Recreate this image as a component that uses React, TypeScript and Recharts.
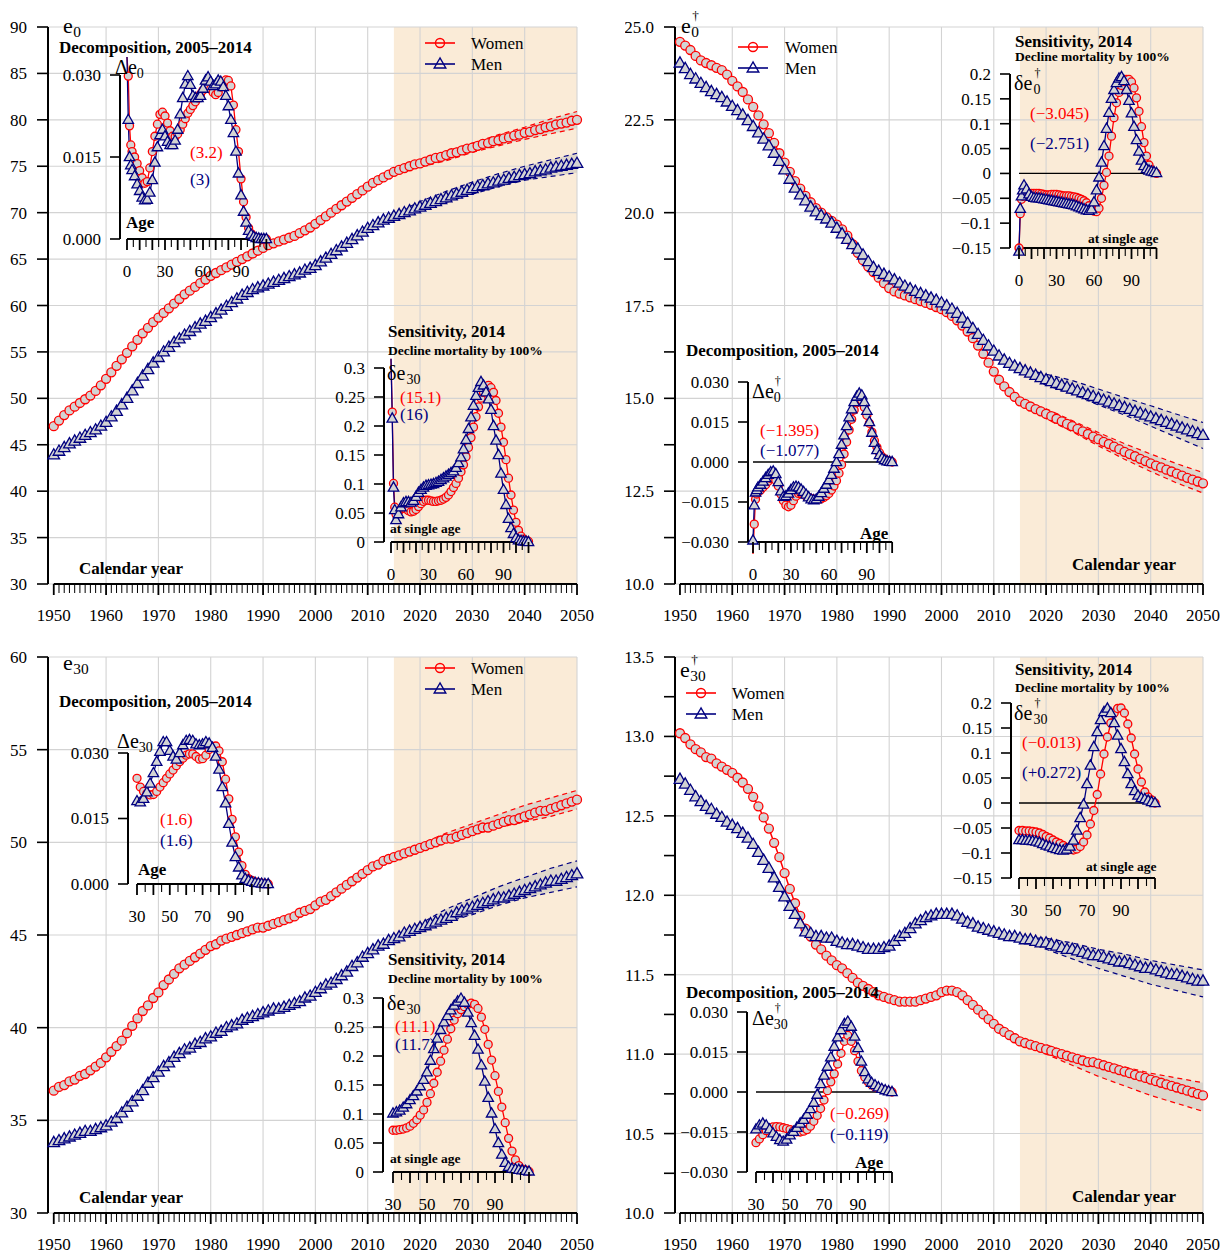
import React from 'react';
import { ComposedChart, Line, Area, XAxis, YAxis, ReferenceLine, ReferenceArea } from 'recharts';

const FONT = '"Liberation Serif", "Times New Roman", serif';
const RED = '#ff0000';
const NAVY = '#000080';
const PT_FILL = '#d3d3d3';
const GRID = '#d3d3d3';
const SHADE = '#faebd7';

// categories
const years = Array.from({ length: 101 }, (_, i) => 1950 + i);
const decades = [1960, 1970, 1980, 1990, 2000, 2010, 2020, 2030, 2040, 2050];
const bandYears = [2015, 2020, 2025, 2030, 2035, 2040, 2045, 2050];
const agesFull = [0, 1, 2, 3, 4, ...Array.from({ length: 53 }, (_, i) => 6 + 2 * i)];
const ages30 = Array.from({ length: 41 }, (_, i) => 30 + 2 * i);

// ---- main panels: yearly values 1950..2050 ----
const e0Women = [
  47.0, 47.6, 48.2, 48.7, 49.1, 49.5, 49.9, 50.3, 50.8, 51.4,
  52.1, 52.8, 53.5, 54.2, 54.9, 55.6, 56.3, 57.0, 57.6, 58.2,
  58.7, 59.2, 59.7, 60.2, 60.7, 61.2, 61.6, 62.0, 62.4, 62.8,
  63.2, 63.5, 63.8, 64.1, 64.4, 64.7, 65.0, 65.3, 65.6, 65.9,
  66.2, 66.5, 66.7, 66.9, 67.1, 67.3, 67.5, 67.8, 68.1, 68.4,
  68.8, 69.2, 69.6, 70.0, 70.4, 70.8, 71.2, 71.6, 72.0, 72.4,
  72.8, 73.2, 73.5, 73.8, 74.1, 74.4, 74.6, 74.8, 75.0, 75.2,
  75.3, 75.5, 75.7, 75.9, 76.0, 76.2, 76.4, 76.5, 76.7, 76.9,
  77.0, 77.2, 77.4, 77.5, 77.7, 77.8, 78.0, 78.1, 78.3, 78.4,
  78.6, 78.7, 78.9, 79.0, 79.2, 79.3, 79.5, 79.6, 79.7, 79.9,
  80.0,
];
const e0Men = [
  43.9, 44.3, 44.7, 45.1, 45.4, 45.7, 46.0, 46.3, 46.6, 47.0,
  47.4, 48.0, 48.6, 49.3, 50.0, 50.8, 51.6, 52.4, 53.1, 53.8,
  54.4, 55.0, 55.5, 56.0, 56.4, 56.8, 57.2, 57.6, 58.0, 58.3,
  58.7, 59.1, 59.5, 59.9, 60.3, 60.7, 61.1, 61.4, 61.7, 61.9,
  62.1, 62.3, 62.5, 62.7, 62.9, 63.1, 63.3, 63.5, 63.8, 64.0,
  64.3, 64.7, 65.1, 65.5, 65.9, 66.3, 66.7, 67.1, 67.5, 67.9,
  68.3, 68.6, 68.9, 69.2, 69.4, 69.6, 69.8, 70.0, 70.2, 70.4,
  70.6, 70.8, 71.0, 71.2, 71.4, 71.6, 71.8, 72.0, 72.2, 72.4,
  72.6, 72.8, 72.9, 73.1, 73.2, 73.4, 73.5, 73.7, 73.8, 74.0,
  74.1, 74.2, 74.4, 74.5, 74.6, 74.8, 74.9, 75.0, 75.1, 75.2,
  75.3,
];
const e0WomenHi = [74.5, 75.7, 76.6, 77.5, 78.4, 79.2, 80.1, 80.9];
const e0WomenLo = [74.3, 74.9, 75.6, 76.5, 77.2, 77.9, 78.5, 79.1];
const e0MenHi = [69.8, 71.2, 72.3, 73.3, 74.2, 75.0, 75.7, 76.4];
const e0MenLo = [69.6, 70.2, 71.1, 72.0, 72.8, 73.5, 73.9, 74.3];

const ed0Women = [
  24.60, 24.50, 24.38, 24.22, 24.10, 24.03, 23.97, 23.90, 23.84, 23.72,
  23.55, 23.40, 23.25, 23.05, 22.85, 22.62, 22.38, 22.14, 21.88, 21.60,
  21.35, 21.10, 20.85, 20.65, 20.45, 20.28, 20.12, 20.00, 19.88, 19.78,
  19.68, 19.55, 19.38, 19.15, 18.92, 18.72, 18.55, 18.40, 18.25, 18.10,
  17.97, 17.88, 17.82, 17.77, 17.72, 17.67, 17.62, 17.57, 17.52, 17.46,
  17.40, 17.32, 17.22, 17.10, 16.96, 16.80, 16.62, 16.42, 16.20, 15.96,
  15.72, 15.50, 15.32, 15.17, 15.04, 14.92, 14.85, 14.78, 14.71, 14.65,
  14.58, 14.52, 14.45, 14.38, 14.31, 14.25, 14.18, 14.11, 14.04, 13.97,
  13.90, 13.83, 13.77, 13.70, 13.63, 13.56, 13.50, 13.44, 13.37, 13.31,
  13.25, 13.19, 13.14, 13.08, 13.03, 12.97, 12.92, 12.86, 12.81, 12.76,
  12.71,
];
const ed0Men = [
  24.03, 23.88, 23.72, 23.60, 23.48, 23.37, 23.26, 23.18, 23.10, 22.98,
  22.86, 22.75, 22.63, 22.48, 22.32, 22.15, 21.98, 21.80, 21.60, 21.38,
  21.15, 20.90, 20.66, 20.48, 20.32, 20.15, 20.02, 19.92, 19.83, 19.72,
  19.58, 19.43, 19.28, 19.14, 19.02, 18.86, 18.68, 18.52, 18.42, 18.34,
  18.27, 18.19, 18.10, 18.02, 17.95, 17.88, 17.82, 17.76, 17.70, 17.64,
  17.57, 17.49, 17.40, 17.29, 17.16, 17.02, 16.88, 16.72, 16.56, 16.41,
  16.27, 16.14, 16.03, 15.94, 15.87, 15.80, 15.74, 15.68, 15.62, 15.56,
  15.50, 15.45, 15.40, 15.35, 15.30, 15.25, 15.20, 15.15, 15.10, 15.05,
  15.00, 14.95, 14.90, 14.85, 14.80, 14.75, 14.70, 14.65, 14.60, 14.55,
  14.50, 14.45, 14.40, 14.35, 14.30, 14.25, 14.20, 14.15, 14.10, 14.05,
  14.00,
];
const ed0WomenHi = [14.95, 14.72, 14.40, 14.08, 13.78, 13.50, 13.24, 13.00];
const ed0WomenLo = [14.90, 14.45, 14.10, 13.72, 13.36, 13.03, 12.72, 12.45];
const ed0MenHi = [15.82, 15.65, 15.48, 15.25, 15.02, 14.80, 14.57, 14.35];
const ed0MenLo = [15.78, 15.35, 15.12, 14.82, 14.55, 14.25, 13.95, 13.65];

const e30Women = [
  36.6, 36.8, 36.9, 37.1, 37.2, 37.4, 37.5, 37.7, 37.9, 38.1,
  38.4, 38.7, 39.0, 39.3, 39.7, 40.1, 40.5, 40.9, 41.2, 41.6,
  41.9, 42.3, 42.6, 42.9, 43.2, 43.4, 43.6, 43.8, 44.0, 44.2,
  44.4, 44.5, 44.7, 44.8, 44.9, 45.0, 45.1, 45.2, 45.3, 45.4,
  45.4, 45.5, 45.6, 45.7, 45.8, 45.9, 46.0, 46.2, 46.3, 46.4,
  46.6, 46.8, 46.9, 47.1, 47.3, 47.5, 47.7, 47.9, 48.1, 48.3,
  48.5, 48.7, 48.8, 49.0, 49.1, 49.2, 49.3, 49.4, 49.5, 49.6,
  49.7, 49.8, 49.9, 50.0, 50.1, 50.2, 50.2, 50.3, 50.4, 50.5,
  50.6, 50.7, 50.8, 50.8, 50.9, 51.0, 51.1, 51.2, 51.2, 51.3,
  51.4, 51.5, 51.6, 51.7, 51.7, 51.8, 51.9, 52.0, 52.1, 52.2,
  52.3,
];
const e30Men = [
  33.8, 33.9, 34.0, 34.1, 34.2, 34.3, 34.4, 34.4, 34.5, 34.6,
  34.7, 34.9, 35.1, 35.4, 35.7, 36.0, 36.3, 36.6, 37.0, 37.3,
  37.6, 37.9, 38.1, 38.4, 38.6, 38.8, 38.9, 39.1, 39.2, 39.4,
  39.5, 39.7, 39.8, 40.0, 40.1, 40.2, 40.4, 40.5, 40.6, 40.7,
  40.8, 40.9, 41.0, 41.0, 41.1, 41.2, 41.3, 41.4, 41.6, 41.7,
  41.9, 42.1, 42.3, 42.4, 42.6, 42.8, 43.0, 43.3, 43.5, 43.8,
  44.0, 44.2, 44.4, 44.5, 44.7, 44.8, 44.9, 45.1, 45.2, 45.3,
  45.4, 45.5, 45.6, 45.7, 45.8, 45.9, 46.0, 46.2, 46.3, 46.4,
  46.5, 46.6, 46.7, 46.8, 46.9, 47.0, 47.0, 47.1, 47.2, 47.3,
  47.4, 47.5, 47.6, 47.7, 47.8, 47.9, 47.9, 48.0, 48.1, 48.2,
  48.3,
];
const e30WomenHi = [49.2, 49.9, 50.5, 51.0, 51.5, 52.0, 52.4, 52.8];
const e30WomenLo = [49.2, 49.5, 50.0, 50.4, 50.8, 51.1, 51.4, 51.8];
const e30MenHi = [44.8, 45.6, 46.4, 47.0, 47.6, 48.1, 48.6, 49.0];
const e30MenLo = [44.8, 45.2, 45.7, 46.1, 46.6, 47.0, 47.3, 47.6];

const ed30Women = [
  13.02, 12.99, 12.95, 12.92, 12.90, 12.87, 12.86, 12.83, 12.81, 12.79,
  12.77, 12.74, 12.71, 12.67, 12.62, 12.56, 12.49, 12.42, 12.33, 12.24,
  12.14, 12.04, 11.95, 11.87, 11.79, 11.74, 11.69, 11.66, 11.62, 11.59,
  11.56, 11.54, 11.51, 11.48, 11.45, 11.43, 11.41, 11.39, 11.37, 11.36,
  11.35, 11.34, 11.33, 11.33, 11.33, 11.33, 11.34, 11.35, 11.36, 11.37,
  11.39, 11.40, 11.40, 11.39, 11.37, 11.34, 11.31, 11.28, 11.25, 11.22,
  11.19, 11.16, 11.14, 11.12, 11.10, 11.08, 11.07, 11.06, 11.05, 11.04,
  11.03, 11.02, 11.01, 11.00, 10.99, 10.98, 10.97, 10.96, 10.95, 10.95,
  10.94, 10.93, 10.92, 10.91, 10.90, 10.89, 10.88, 10.87, 10.86, 10.85,
  10.84, 10.83, 10.82, 10.81, 10.80, 10.79, 10.78, 10.77, 10.76, 10.75,
  10.74,
];
const ed30Men = [
  12.73, 12.70, 12.66, 12.62, 12.59, 12.56, 12.54, 12.51, 12.49, 12.46,
  12.44, 12.42, 12.39, 12.36, 12.32, 12.27, 12.22, 12.17, 12.11, 12.05,
  11.99, 11.93, 11.88, 11.82, 11.77, 11.76, 11.74, 11.74, 11.73, 11.73,
  11.71, 11.70, 11.69, 11.69, 11.68, 11.67, 11.66, 11.66, 11.66, 11.67,
  11.68, 11.71, 11.74, 11.76, 11.79, 11.82, 11.84, 11.86, 11.87, 11.88,
  11.88, 11.88, 11.88, 11.87, 11.85, 11.83, 11.82, 11.80, 11.79, 11.78,
  11.77, 11.76, 11.75, 11.74, 11.74, 11.73, 11.72, 11.72, 11.71, 11.70,
  11.70, 11.69, 11.68, 11.67, 11.66, 11.66, 11.65, 11.64, 11.63, 11.62,
  11.62, 11.61, 11.60, 11.59, 11.58, 11.58, 11.57, 11.56, 11.55, 11.54,
  11.54, 11.53, 11.52, 11.51, 11.50, 11.50, 11.49, 11.48, 11.47, 11.46,
  11.46,
];
const ed30WomenHi = [11.08, 11.06, 11.00, 10.96, 10.92, 10.88, 10.85, 10.82];
const ed30WomenLo = [11.08, 11.00, 10.93, 10.86, 10.80, 10.74, 10.69, 10.64];
const ed30MenHi = [11.73, 11.73, 11.70, 11.66, 11.63, 11.59, 11.56, 11.53];
const ed30MenLo = [11.73, 11.66, 11.60, 11.54, 11.49, 11.44, 11.40, 11.36];

// ---- insets: values by age ----
const decE0Women = [
  0.0333, 0.0298, 0.0207, 0.0172, 0.0160,
  0.0150, 0.0138, 0.0125, 0.0112, 0.0102, 0.0105, 0.0130, 0.0160, 0.0188, 0.0210,
  0.0228, 0.0232, 0.0225, 0.0212, 0.0198, 0.0188, 0.0187, 0.0192, 0.0200, 0.0210,
  0.0220, 0.0230, 0.0237, 0.0244, 0.0251, 0.0258, 0.0265, 0.0272, 0.0277, 0.0278,
  0.0274, 0.0268, 0.0264, 0.0268, 0.0278, 0.0286, 0.0291, 0.0290, 0.0280, 0.0245,
  0.0200, 0.0160, 0.0110, 0.0068, 0.0040, 0.0020, 0.0010, 0.0005,
  0.0002, 0.0001, 0.0001, 0.0, 0.0,
];
const decE0Men = [
  0.0333, 0.0218, 0.0150, 0.0135, 0.0126,
  0.0115, 0.0100, 0.0088, 0.0076, 0.0071, 0.0072, 0.0085, 0.0108, 0.0140, 0.0168,
  0.0190, 0.0200, 0.0188, 0.0178, 0.0172, 0.0172, 0.0180, 0.0200, 0.0228, 0.0258,
  0.0283, 0.0298, 0.0282, 0.0262, 0.0258, 0.0258, 0.0262, 0.0275, 0.0290, 0.0296,
  0.0288, 0.0280, 0.0283, 0.0290, 0.0288, 0.0278, 0.0262, 0.0243, 0.0218, 0.0194,
  0.0160, 0.0120, 0.0080, 0.0050, 0.0030, 0.0015, 0.0008, 0.0004,
  0.0002, 0.0001, 0.0, 0.0, 0.0,
];
const sensE0Women = [
  0.316, 0.224, 0.101, 0.060, 0.048,
  0.052, 0.057, 0.058, 0.057, 0.054, 0.052, 0.053, 0.056, 0.061, 0.066,
  0.070, 0.072, 0.072, 0.071, 0.070, 0.070, 0.071, 0.072, 0.074, 0.077,
  0.081, 0.087, 0.094, 0.101, 0.110, 0.121, 0.133, 0.147, 0.163, 0.180,
  0.198, 0.216, 0.233, 0.248, 0.258, 0.266, 0.270, 0.266, 0.258, 0.244,
  0.222, 0.198, 0.172, 0.142, 0.110, 0.081, 0.055, 0.034,
  0.020, 0.010, 0.005, 0.002, 0.001,
];
const sensE0Men = [
  0.316, 0.213, 0.094, 0.055, 0.038,
  0.048, 0.060, 0.067, 0.069, 0.069, 0.068, 0.071, 0.078, 0.085, 0.090,
  0.094, 0.097, 0.098, 0.099, 0.100, 0.102, 0.104, 0.107, 0.110, 0.113,
  0.116, 0.119, 0.122, 0.128, 0.136, 0.146, 0.160, 0.176, 0.195, 0.215,
  0.235, 0.252, 0.266, 0.276, 0.270, 0.258, 0.246, 0.228, 0.200, 0.175,
  0.150, 0.118, 0.090, 0.064, 0.040, 0.024, 0.014, 0.007,
  0.003, 0.002, 0.001, 0.001, 0.0,
];
const decEd0Women = [
  -0.0345, -0.0233, -0.0140, -0.0120, -0.0112,
  -0.0105, -0.0095, -0.0085, -0.0072, -0.0062, -0.0060, -0.0068, -0.0090, -0.0120, -0.0145,
  -0.0162, -0.0168, -0.0162, -0.0145, -0.0128, -0.0118, -0.0118, -0.0122, -0.0128, -0.0133,
  -0.0137, -0.0139, -0.0140, -0.0140, -0.0138, -0.0133, -0.0126, -0.0118, -0.0105, -0.0090,
  -0.0070, -0.0042, -0.0010, 0.0030, 0.0075, 0.0120, 0.0160, 0.0195, 0.0222, 0.0237,
  0.0232, 0.0205, 0.0175, 0.0145, 0.0112, 0.0080, 0.0055, 0.0035,
  0.0020, 0.0012, 0.0006, 0.0003, 0.0,
];
const decEd0Men = [
  -0.0294, -0.0162, -0.0114, -0.0105, -0.0095,
  -0.0085, -0.0073, -0.0060, -0.0048, -0.0038, -0.0035, -0.0045, -0.0075, -0.0110, -0.0130,
  -0.0128, -0.0118, -0.0105, -0.0095, -0.0092, -0.0095, -0.0103, -0.0112, -0.0122, -0.0132,
  -0.0140, -0.0143, -0.0140, -0.0130, -0.0116, -0.0100, -0.0085, -0.0068, -0.0048, -0.0025,
  0.0000, 0.0030, 0.0065, 0.0100, 0.0135, 0.0168, 0.0198, 0.0225, 0.0245, 0.0257,
  0.0250, 0.0225, 0.0192, 0.0150, 0.0110, 0.0072, 0.0045, 0.0026,
  0.0014, 0.0007, 0.0003, 0.0001, 0.0,
];
const sensEd0Women = [
  -0.150, -0.081, -0.052, -0.046, -0.044,
  -0.042, -0.041, -0.040, -0.040, -0.040, -0.040, -0.041, -0.042, -0.043, -0.043,
  -0.042, -0.042, -0.042, -0.043, -0.044, -0.045, -0.045, -0.045, -0.046, -0.047,
  -0.048, -0.050, -0.052, -0.055, -0.059, -0.065, -0.071, -0.076, -0.077, -0.070,
  -0.050, -0.024, 0.002, 0.035, 0.075, 0.112, 0.142, 0.163, 0.177, 0.185,
  0.189, 0.189, 0.184, 0.172, 0.152, 0.125, 0.094, 0.062,
  0.035, 0.017, 0.007, 0.002, 0.0,
];
const sensEd0Men = [
  -0.157, -0.071, -0.046, -0.034, -0.024,
  -0.032, -0.042, -0.047, -0.049, -0.050, -0.050, -0.051, -0.052, -0.053, -0.054,
  -0.055, -0.056, -0.057, -0.058, -0.059, -0.060, -0.061, -0.062, -0.063, -0.064,
  -0.066, -0.068, -0.070, -0.072, -0.074, -0.075, -0.072, -0.058, -0.034, -0.008,
  0.022, 0.055, 0.090, 0.122, 0.150, 0.168, 0.182, 0.191, 0.194, 0.186,
  0.168, 0.146, 0.121, 0.094, 0.067, 0.044, 0.026, 0.015,
  0.009, 0.006, 0.004, 0.003, 0.001,
];
const decE30Women = [
  0.0242, 0.0222, 0.0212, 0.0207, 0.0204, 0.0205, 0.0212, 0.0222, 0.0232, 0.0242,
  0.0252, 0.0261, 0.0271, 0.0280, 0.0288, 0.0295, 0.0298, 0.0298, 0.0292, 0.0286,
  0.0287, 0.0295, 0.0308, 0.0315, 0.0316, 0.0305, 0.0280, 0.0240, 0.0195, 0.0148,
  0.0108, 0.0073, 0.0042, 0.0022, 0.0012, 0.0008, 0.0005, 0.0003, 0.0002, 0.0001,
  0.0,
];
const decE30Men = [
  0.0190, 0.0187, 0.0195, 0.0210, 0.0230, 0.0254, 0.0280, 0.0303, 0.0325, 0.0325,
  0.0305, 0.0292, 0.0285, 0.0300, 0.0318, 0.0328, 0.0330, 0.0328, 0.0320, 0.0318,
  0.0320, 0.0325, 0.0322, 0.0312, 0.0292, 0.0262, 0.0222, 0.0185, 0.0138, 0.0095,
  0.0062, 0.0038, 0.0020, 0.0012, 0.0008, 0.0005, 0.0003, 0.0002, 0.0001, 0.0,
  0.0,
];
const sensE30Women = [
  0.072, 0.072, 0.073, 0.074, 0.076, 0.079, 0.084, 0.090, 0.098, 0.107,
  0.120, 0.135, 0.153, 0.172, 0.191, 0.210, 0.229, 0.247, 0.262, 0.273,
  0.280, 0.285, 0.289, 0.291, 0.289, 0.282, 0.267, 0.246, 0.220, 0.193,
  0.166, 0.139, 0.112, 0.085, 0.058, 0.036, 0.021, 0.011, 0.005, 0.003,
  0.001,
];
const sensE30Men = [
  0.101, 0.103, 0.106, 0.111, 0.117, 0.124, 0.131, 0.139, 0.148, 0.159,
  0.172, 0.192, 0.212, 0.230, 0.245, 0.258, 0.269, 0.279, 0.287, 0.294,
  0.299, 0.292, 0.275, 0.257, 0.235, 0.211, 0.184, 0.156, 0.128, 0.101,
  0.074, 0.050, 0.030, 0.016, 0.009, 0.006, 0.005, 0.004, 0.003, 0.002,
  0.001,
];
const decEd30Women = [
  -0.0190, -0.0176, -0.0160, -0.0145, -0.0135, -0.0131, -0.0130, -0.0131, -0.0134, -0.0137,
  -0.0141, -0.0146, -0.0149, -0.0150, -0.0147, -0.0141, -0.0128, -0.0110, -0.0088, -0.0062,
  -0.0030, 0.0005, 0.0038, 0.0068, 0.0105, 0.0145, 0.0190, 0.0212, 0.0190, 0.0155,
  0.0115, 0.0080, 0.0055, 0.0038, 0.0027, 0.0019, 0.0014, 0.0010, 0.0006, 0.0003,
  0.0,
];
const decEd30Men = [
  -0.0140, -0.0125, -0.0118, -0.0125, -0.0140, -0.0155, -0.0168, -0.0180, -0.0186, -0.0178,
  -0.0162, -0.0149, -0.0134, -0.0118, -0.0104, -0.0085, -0.0064, -0.0040, -0.0010, 0.0030,
  0.0062, 0.0095, 0.0130, 0.0170, 0.0205, 0.0232, 0.0255, 0.0264, 0.0245, 0.0208,
  0.0165, 0.0114, 0.0075, 0.0048, 0.0035, 0.0026, 0.0018, 0.0012, 0.0007, 0.0003,
  0.0,
];
const sensEd30Women = [
  -0.055, -0.055, -0.056, -0.056, -0.057, -0.058, -0.060, -0.063, -0.067, -0.070,
  -0.074, -0.078, -0.081, -0.085, -0.089, -0.093, -0.094, -0.092, -0.087, -0.078,
  -0.064, -0.042, -0.015, 0.017, 0.058, 0.098, 0.132, 0.160, 0.180, 0.189,
  0.190, 0.180, 0.158, 0.130, 0.098, 0.068, 0.042, 0.022, 0.012, 0.006,
  0.0,
];
const sensEd30Men = [
  -0.074, -0.074, -0.075, -0.075, -0.076, -0.077, -0.079, -0.082, -0.085, -0.087,
  -0.090, -0.092, -0.094, -0.095, -0.093, -0.087, -0.075, -0.055, -0.030, -0.003,
  0.038, 0.075, 0.112, 0.142, 0.166, 0.182, 0.189, 0.180, 0.160, 0.135,
  0.108, 0.082, 0.058, 0.038, 0.024, 0.015, 0.010, 0.008, 0.005, 0.002,
  0.0,
];

// tick values
const e0Ticks = [30, 35, 40, 45, 50, 55, 60, 65, 70, 75, 80, 85, 90];
const ed0Ticks = [10, 11.25, 12.5, 13.75, 15, 16.25, 17.5, 18.75, 20, 21.25, 22.5, 23.75, 25];
const ed0Grid = [10, 12.5, 15, 17.5, 20, 22.5, 25];
const e30Ticks = [30, 35, 40, 45, 50, 55, 60];
const ed30Ticks = [10, 10.25, 10.5, 10.75, 11, 11.25, 11.5, 11.75, 12, 12.25, 12.5, 12.75, 13, 13.25, 13.5];
const ed30Grid = [10, 10.5, 11, 11.5, 12, 12.5, 13, 13.5];
const decTicks = [-0.03, -0.015, 0, 0.015, 0.03];
const decTicksPos = [0, 0.015, 0.03];
const sensTicksPos = [0, 0.05, 0.1, 0.15, 0.2, 0.25, 0.3];
const sensTicks = [-0.15, -0.1, -0.05, 0, 0.05, 0.1, 0.15, 0.2];

const minus = (s: string) => s.replace('-', '\u2212');
const fmt3 = (v: number) => minus(v.toFixed(3));
const fmtShort = (v: number) => (v === 0 ? '0' : minus(String(v)));

function buildRows(w: number[], m: number[], wHi: number[], wLo: number[], mHi: number[], mLo: number[]) {
  return years.map((yr, i) => {
    const b = bandYears.indexOf(yr);
    const has = b >= 0;
    return {
      year: yr,
      w: w[i],
      m: m[i],
      wHi: has ? wHi[b] : undefined,
      wLo: has ? wLo[b] : undefined,
      mHi: has ? mHi[b] : undefined,
      mLo: has ? mLo[b] : undefined,
      wBand: has ? [wLo[b], wHi[b]] : undefined,
      mBand: has ? [mLo[b], mHi[b]] : undefined,
    };
  });
}

const circleDot = (r: number, hideFirst = false) => (p: any) => {
  const { cx, cy, index } = p;
  if (cx == null || cy == null || (hideFirst && index === 0)) return <g key={`c${index}`} />;
  return <circle key={`c${index}`} cx={cx} cy={cy} r={r} fill={PT_FILL} stroke={RED} strokeWidth={1.3} />;
};
const triDot = (s: number, hideFirst = false) => (p: any) => {
  const { cx, cy, index } = p;
  if (cx == null || cy == null || (hideFirst && index === 0)) return <g key={`t${index}`} />;
  const pts = `${cx},${cy - s * 0.62} ${cx - s * 0.58},${cy + s * 0.4} ${cx + s * 0.58},${cy + s * 0.4}`;
  return <polygon key={`t${index}`} points={pts} fill={PT_FILL} stroke={NAVY} strokeWidth={1.3} />;
};

const mainXTick = (props: any) => {
  const { x, y, payload } = props;
  const v = payload.value;
  const dec = v % 10 === 0;
  return (
    <g>
      <line x1={x} x2={x} y1={y} y2={y + (dec ? 11 : 9)} stroke="#000" strokeWidth={dec ? 1.8 : 1} />
      {dec && (
        <text x={x} y={y + 37} textAnchor="middle" fontFamily={FONT} fontSize={17} fill="#000">
          {v}
        </text>
      )}
    </g>
  );
};

const yTick = (label: (v: number) => string | null, len: number, gap: number) => (props: any) => {
  const { x, y, payload } = props;
  const lab = label(payload.value);
  return (
    <g>
      <line x1={x - len} x2={x} y1={y} y2={y} stroke="#000" strokeWidth={1.6} />
      {lab !== null && (
        <text x={x - len - gap} y={y + 6} textAnchor="end" fontFamily={FONT} fontSize={17} fill="#000">
          {lab}
        </text>
      )}
    </g>
  );
};

type MainProps = {
  left: number;
  top: number;
  w: number;
  h: number;
  xMin: number;
  yDom: [number, number];
  yTicks: number[];
  gridY: number[];
  label: (v: number) => string | null;
  rows: any[];
};

function MainPanel(p: MainProps) {
  const YW = 50;
  const XH = 45;
  const MT = 10;
  const MR = 28;
  const cw = YW + p.w + MR;
  const ch = MT + p.h + XH;
  const box = { position: 'absolute' as const, left: p.left - YW, top: p.top - MT };
  const margin = { top: MT, right: MR, left: 0, bottom: 0 };
  const axes = (withTicks: boolean) => [
    <XAxis
      key="x"
      type="number"
      dataKey="year"
      domain={[p.xMin, 2050]}
      ticks={years}
      interval={0}
      tick={withTicks ? mainXTick : false}
      tickLine={false}
      axisLine={false}
      tickSize={0}
      tickMargin={0}
      height={XH}
    />,
    <YAxis
      key="y"
      type="number"
      domain={p.yDom}
      ticks={p.yTicks}
      interval={0}
      tick={withTicks ? yTick(p.label, 11, 10) : false}
      tickLine={false}
      axisLine={false}
      tickSize={0}
      tickMargin={0}
      width={YW}
    />,
  ];
  // an invisible series so the background layers resolve their scales
  const ghost = <Line dataKey="w" stroke="none" dot={false} isAnimationActive={false} />;
  return (
    <>
      <div style={box}>
        <ComposedChart width={cw} height={ch} data={p.rows} margin={margin}>
          {axes(false)}
          <ReferenceArea x1={2015} x2={2050} y1={p.yDom[0]} y2={p.yDom[1]} fill={SHADE} fillOpacity={1} stroke="none" ifOverflow="visible" />
          {ghost}
        </ComposedChart>
      </div>
      <div style={box}>
        <ComposedChart width={cw} height={ch} data={p.rows} margin={margin}>
          {axes(false)}
          {decades.map((d) => (
            <ReferenceLine key={`v${d}`} x={d} stroke={GRID} strokeWidth={1.1} ifOverflow="visible" />
          ))}
          {p.gridY.map((v) => (
            <ReferenceLine key={`h${v}`} y={v} stroke={GRID} strokeWidth={1.1} ifOverflow="visible" />
          ))}
          {ghost}
        </ComposedChart>
      </div>
      <div style={box}>
        <ComposedChart width={cw} height={ch} data={p.rows} margin={margin}>
          {axes(true)}
          <Area dataKey="wBand" stroke="none" fill="#bdbdbd" fillOpacity={0.45} connectNulls isAnimationActive={false} />
          <Area dataKey="mBand" stroke="none" fill="#bdbdbd" fillOpacity={0.45} connectNulls isAnimationActive={false} />
          <Line dataKey="wHi" stroke={RED} strokeWidth={1.2} strokeDasharray="5 4" dot={false} connectNulls isAnimationActive={false} />
          <Line dataKey="wLo" stroke={RED} strokeWidth={1.2} strokeDasharray="5 4" dot={false} connectNulls isAnimationActive={false} />
          <Line dataKey="mHi" stroke={NAVY} strokeWidth={1.2} strokeDasharray="5 4" dot={false} connectNulls isAnimationActive={false} />
          <Line dataKey="mLo" stroke={NAVY} strokeWidth={1.2} strokeDasharray="5 4" dot={false} connectNulls isAnimationActive={false} />
          <Line dataKey="w" stroke={RED} strokeWidth={1.5} dot={circleDot(4.5)} isAnimationActive={false} />
          <Line dataKey="m" stroke={NAVY} strokeWidth={1.5} dot={triDot(10)} isAnimationActive={false} />
          <ReferenceLine
            segment={[{ x: p.xMin, y: p.yDom[0] }, { x: p.xMin, y: p.yDom[1] }]}
            stroke="#000"
            strokeWidth={2}
            ifOverflow="visible"
          />
          <ReferenceLine
            segment={[{ x: 1950, y: p.yDom[0] }, { x: 2050, y: p.yDom[0] }]}
            stroke="#000"
            strokeWidth={2}
            ifOverflow="visible"
          />
        </ComposedChart>
      </div>
    </>
  );
}

type InsetProps = {
  axisX: number;
  ageX0: number;
  agePx: number;
  ageMin: number;
  ageMax: number;
  yTop: number;
  yBot: number;
  yMin: number;
  yMax: number;
  yTicks: number[];
  yFmt: (v: number) => string;
  xLabels: number[];
  zero: boolean;
  padTop: number;
  padBottom: number;
  ages: number[];
  women: number[];
  men: number[];
  hideW?: boolean;
  hideM?: boolean;
};

function Inset(p: InsetProps) {
  const YW = 70;
  const XH = 50;
  const PR = 10;
  const padTop = Math.max(p.padTop, 14);
  const ppu = (p.yBot - p.yTop) / (p.yMax - p.yMin);
  const plotW = p.ageX0 - p.axisX + (p.ageMax - p.ageMin) * p.agePx + PR;
  const plotH = padTop + (p.yBot - p.yTop) + p.padBottom;
  const xLo = p.ageMin - (p.ageX0 - p.axisX) / p.agePx;
  const xHi = p.ageMax + PR / p.agePx;
  const yLo = p.yMin - p.padBottom / ppu;
  const yHi = p.yMax + padTop / ppu;
  const rows = p.ages.map((a, i) => ({ age: a, w: p.women[i], m: p.men[i] }));
  const xt: number[] = [];
  for (let a = p.ageMin; a <= p.ageMax; a += 5) xt.push(a);
  const xTick = (props: any) => {
    const { x, y, payload } = props;
    const v = payload.value;
    const long = v % 10 === 0;
    const yy = y - p.padBottom;
    return (
      <g>
        <line x1={x} x2={x} y1={yy} y2={yy + (long ? 11 : 8)} stroke="#000" strokeWidth={long ? 1.8 : 1.1} />
        {p.xLabels.includes(v) && (
          <text x={x} y={yy + 38} textAnchor="middle" fontFamily={FONT} fontSize={17} fill="#000">
            {v}
          </text>
        )}
      </g>
    );
  };
  return (
    <div style={{ position: 'absolute', left: p.axisX - YW, top: p.yTop - padTop }}>
      <ComposedChart width={YW + plotW} height={plotH + XH} data={rows} margin={{ top: 0, right: 0, left: 0, bottom: 0 }}>
        <XAxis
          type="number"
          dataKey="age"
          domain={[xLo, xHi]}
          ticks={xt}
          interval={0}
          tick={xTick}
          tickLine={false}
          axisLine={false}
          tickSize={0}
          tickMargin={0}
          height={XH}
        />
        <YAxis
          type="number"
          domain={[yLo, yHi]}
          ticks={p.yTicks}
          interval={0}
          tick={yTick(p.yFmt, 10, 9)}
          tickLine={false}
          axisLine={false}
          tickSize={0}
          tickMargin={0}
          width={YW}
        />
        {p.zero && (
          <ReferenceLine
            segment={[{ x: p.ageMin, y: 0 }, { x: p.ageMax, y: 0 }]}
            stroke="#000"
            strokeWidth={1.3}
            ifOverflow="visible"
          />
        )}
        <Line dataKey="w" stroke={RED} strokeWidth={1.3} dot={circleDot(4, p.hideW)} isAnimationActive={false} />
        <Line dataKey="m" stroke={NAVY} strokeWidth={1.3} dot={triDot(9, p.hideM)} isAnimationActive={false} />
        <ReferenceLine
          segment={[{ x: xLo, y: p.yMin }, { x: xLo, y: p.yMax }]}
          stroke="#000"
          strokeWidth={2}
          ifOverflow="visible"
        />
        <ReferenceLine
          segment={[{ x: p.ageMin, y: p.yMin }, { x: p.ageMax, y: p.yMin }]}
          stroke="#000"
          strokeWidth={2}
          ifOverflow="visible"
        />
      </ComposedChart>
    </div>
  );
}

function Sym({ x, y, pre = '', sub, dag = false, size = 22 }: { x: number; y: number; pre?: string; sub: string; dag?: boolean; size?: number }) {
  const preW = pre === '\u0394' ? size * 0.62 : pre === '\u03b4' ? size * 0.5 : 0;
  const sx = x + preW + size * 0.444 + 0.5;
  return (
    <g fontFamily={FONT} fill="#000">
      <text x={x} y={y} fontSize={size}>
        {pre}e
      </text>
      <text x={sx} y={y + 4} fontSize={size * 0.7}>
        {sub}
      </text>
      {dag && (
        <text x={sx + 1} y={y - 13} fontSize={size * 0.6}>
          {'\u2020'}
        </text>
      )}
    </g>
  );
}

function T({ x, y, s, size = 17, bold = false, color = '#000' }: { x: number; y: number; s: string; size?: number; bold?: boolean; color?: string }) {
  return (
    <text x={x} y={y} fontFamily={FONT} fontSize={size} fontWeight={bold ? 'bold' : 'normal'} fill={color}>
      {s}
    </text>
  );
}

function Legend({ x1, y, tx }: { x1: number; y: number; tx: number }) {
  const cx = x1 + 15;
  const y2 = y + 21;
  return (
    <g>
      <line x1={x1} x2={x1 + 30} y1={y} y2={y} stroke={RED} strokeWidth={1.6} />
      <circle cx={cx} cy={y} r={4.5} fill="none" stroke={RED} strokeWidth={1.4} />
      <T x={tx} y={y + 6} s="Women" />
      <line x1={x1} x2={x1 + 30} y1={y2} y2={y2} stroke={NAVY} strokeWidth={1.6} />
      <polygon
        points={`${cx},${y2 - 6} ${cx - 5.8},${y2 + 4} ${cx + 5.8},${y2 + 4}`}
        fill="none"
        stroke={NAVY}
        strokeWidth={1.4}
      />
      <T x={tx} y={y2 + 6} s="Men" />
    </g>
  );
}

const rowsE0 = buildRows(e0Women, e0Men, e0WomenHi, e0WomenLo, e0MenHi, e0MenLo);
const rowsEd0 = buildRows(ed0Women, ed0Men, ed0WomenHi, ed0WomenLo, ed0MenHi, ed0MenLo);
const rowsE30 = buildRows(e30Women, e30Men, e30WomenHi, e30WomenLo, e30MenHi, e30MenLo);
const rowsEd30 = buildRows(ed30Women, ed30Men, ed30WomenHi, ed30WomenLo, ed30MenHi, ed30MenLo);

const intLabel = (v: number) => String(v);
const halfLabel = (step: number) => (v: number) =>
  Math.abs(v / step - Math.round(v / step)) < 1e-6 ? v.toFixed(1) : null;

export default function App() {
  return (
    <div style={{ position: 'absolute', left: 0, top: 0, width: 1225, height: 1257, background: '#fff', overflow: 'hidden' }}>
      <MainPanel left={48} top={27} w={529} h={557} xMin={1948.9} yDom={[30, 90]} yTicks={e0Ticks} gridY={e0Ticks} label={intLabel} rows={rowsE0} />
      <MainPanel left={675} top={27} w={528} h={557} xMin={1949.05} yDom={[10, 25]} yTicks={ed0Ticks} gridY={ed0Grid} label={halfLabel(2.5)} rows={rowsEd0} />
      <MainPanel left={48} top={657} w={529} h={556} xMin={1948.9} yDom={[30, 60]} yTicks={e30Ticks} gridY={e30Ticks} label={intLabel} rows={rowsE30} />
      <MainPanel left={675} top={657} w={528} h={556} xMin={1949.05} yDom={[10, 13.5]} yTicks={ed30Ticks} gridY={ed30Grid} label={halfLabel(0.5)} rows={rowsEd30} />

      <Inset axisX={120} ageX0={127} agePx={1.267} ageMin={0} ageMax={110} yTop={75} yBot={239} yMin={0} yMax={0.03}
        yTicks={decTicksPos} yFmt={fmt3} xLabels={[0, 30, 60, 90]} zero={false} padTop={22} padBottom={0}
        ages={agesFull} women={decE0Women} men={decE0Men} hideW hideM />
      <Inset axisX={384} ageX0={391} agePx={1.25} ageMin={0} ageMax={110} yTop={368} yBot={542} yMin={0} yMax={0.3}
        yTicks={sensTicksPos} yFmt={fmtShort} xLabels={[0, 30, 60, 90]} zero={false} padTop={14} padBottom={0}
        ages={agesFull} women={sensE0Women} men={sensE0Men} hideW hideM />
      <Inset axisX={748} ageX0={753} agePx={1.265} ageMin={0} ageMax={110} yTop={382} yBot={542} yMin={-0.03} yMax={0.03}
        yTicks={decTicks} yFmt={fmt3} xLabels={[0, 30, 60, 90]} zero padTop={0} padBottom={14}
        ages={agesFull} women={decEd0Women} men={decEd0Men} hideW />
      <Inset axisX={1010} ageX0={1019} agePx={1.25} ageMin={0} ageMax={110} yTop={74} yBot={248} yMin={-0.15} yMax={0.2}
        yTicks={sensTicks} yFmt={fmtShort} xLabels={[0, 30, 60, 90]} zero padTop={0} padBottom={8}
        ages={agesFull} women={sensEd0Women} men={sensEd0Men} />
      <Inset axisX={128} ageX0={137} agePx={1.64} ageMin={30} ageMax={110} yTop={753} yBot={884} yMin={0} yMax={0.03}
        yTicks={decTicksPos} yFmt={fmt3} xLabels={[30, 50, 70, 90]} zero={false} padTop={20} padBottom={0}
        ages={ages30} women={decE30Women} men={decE30Men} />
      <Inset axisX={383} ageX0={393} agePx={1.7} ageMin={30} ageMax={110} yTop={998} yBot={1172} yMin={0} yMax={0.3}
        yTicks={sensTicksPos} yFmt={fmtShort} xLabels={[30, 50, 70, 90]} zero={false} padTop={6} padBottom={0}
        ages={ages30} women={sensE30Women} men={sensE30Men} />
      <Inset axisX={747} ageX0={756} agePx={1.7} ageMin={30} ageMax={110} yTop={1012} yBot={1172} yMin={-0.03} yMax={0.03}
        yTicks={decTicks} yFmt={fmt3} xLabels={[30, 50, 70, 90]} zero padTop={0} padBottom={0}
        ages={ages30} women={decEd30Women} men={decEd30Men} />
      <Inset axisX={1011} ageX0={1019} agePx={1.7} ageMin={30} ageMax={110} yTop={703} yBot={878} yMin={-0.15} yMax={0.2}
        yTicks={sensTicks} yFmt={fmtShort} xLabels={[30, 50, 70, 90]} zero padTop={0} padBottom={0}
        ages={ages30} women={sensEd30Women} men={sensEd30Men} />

      <svg width={1225} height={1257} style={{ position: 'absolute', left: 0, top: 0, pointerEvents: 'none' }}>
        {/* panel symbols */}
        <Sym x={63} y={33} sub="0" />
        <Sym x={681} y={33} sub="0" dag />
        <Sym x={63} y={670} sub="30" />
        <Sym x={680} y={677} sub="30" dag />
        <Sym x={115} y={74} pre={'\u0394'} sub="0" size={20} />
        <Sym x={387} y={380} pre={'\u03b4'} sub="30" size={20} />
        <Sym x={752} y={398} pre={'\u0394'} sub="0" dag size={20} />
        <Sym x={1014} y={90} pre={'\u03b4'} sub="0" dag size={20} />
        <Sym x={117} y={748} pre={'\u0394'} sub="30" size={20} />
        <Sym x={387} y={1010} pre={'\u03b4'} sub="30" size={20} />
        <Sym x={752} y={1025} pre={'\u0394'} sub="30" dag size={20} />
        <Sym x={1014} y={720} pre={'\u03b4'} sub="30" dag size={20} />

        {/* panel 1 */}
        <T x={59} y={53} s={'Decomposition, 2005\u20132014'} bold />
        <T x={126} y={228} s="Age" bold />
        <T x={190} y={158} s="(3.2)" color={RED} />
        <T x={190} y={185} s="(3)" color={NAVY} />
        <T x={388} y={337} s="Sensitivity, 2014" bold />
        <T x={388} y={355} s="Decline mortality by 100%" bold size={13.5} />
        <T x={400} y={403} s="(15.1)" color={RED} />
        <T x={400} y={420} s="(16)" color={NAVY} />
        <T x={390} y={533} s="at single age" bold size={13.5} />
        <T x={79} y={574} s="Calendar year" bold />
        <Legend x1={425} y={43} tx={471} />

        {/* panel 2 */}
        <T x={1015} y={47} s="Sensitivity, 2014" bold />
        <T x={1015} y={61} s="Decline mortality by 100%" bold size={13.5} />
        <T x={1030} y={119} s={'(\u22123.045)'} color={RED} />
        <T x={1030} y={149} s={'(\u22122.751)'} color={NAVY} />
        <T x={1088} y={243} s="at single age" bold size={13.5} />
        <T x={686} y={356} s={'Decomposition, 2005\u20132014'} bold />
        <T x={760} y={436} s={'(\u22121.395)'} color={RED} />
        <T x={760} y={456} s={'(\u22121.077)'} color={NAVY} />
        <T x={860} y={539} s="Age" bold />
        <T x={1072} y={570} s="Calendar year" bold />
        <Legend x1={738} y={47} tx={785} />

        {/* panel 3 */}
        <T x={59} y={707} s={'Decomposition, 2005\u20132014'} bold />
        <T x={160} y={825} s="(1.6)" color={RED} />
        <T x={160} y={846} s="(1.6)" color={NAVY} />
        <T x={138} y={875} s="Age" bold />
        <T x={388} y={965} s="Sensitivity, 2014" bold />
        <T x={388} y={983} s="Decline mortality by 100%" bold size={13.5} />
        <T x={395} y={1032} s="(11.1)" color={RED} />
        <T x={395} y={1050} s="(11.7)" color={NAVY} />
        <T x={390} y={1163} s="at single age" bold size={13.5} />
        <T x={79} y={1203} s="Calendar year" bold />
        <Legend x1={425} y={668} tx={471} />

        {/* panel 4 */}
        <T x={1015} y={675} s="Sensitivity, 2014" bold />
        <T x={1015} y={692} s="Decline mortality by 100%" bold size={13.5} />
        <T x={1022} y={748} s={'(\u22120.013)'} color={RED} />
        <T x={1022} y={778} s="(+0.272)" color={NAVY} />
        <T x={1086} y={871} s="at single age" bold size={13.5} />
        <T x={686} y={998} s={'Decomposition, 2005\u20132014'} bold />
        <T x={830} y={1119} s={'(\u22120.269)'} color={RED} />
        <T x={830} y={1140} s={'(\u22120.119)'} color={NAVY} />
        <T x={855} y={1168} s="Age" bold />
        <T x={1072} y={1202} s="Calendar year" bold />
        <Legend x1={686} y={693} tx={732} />
      </svg>
    </div>
  );
}
